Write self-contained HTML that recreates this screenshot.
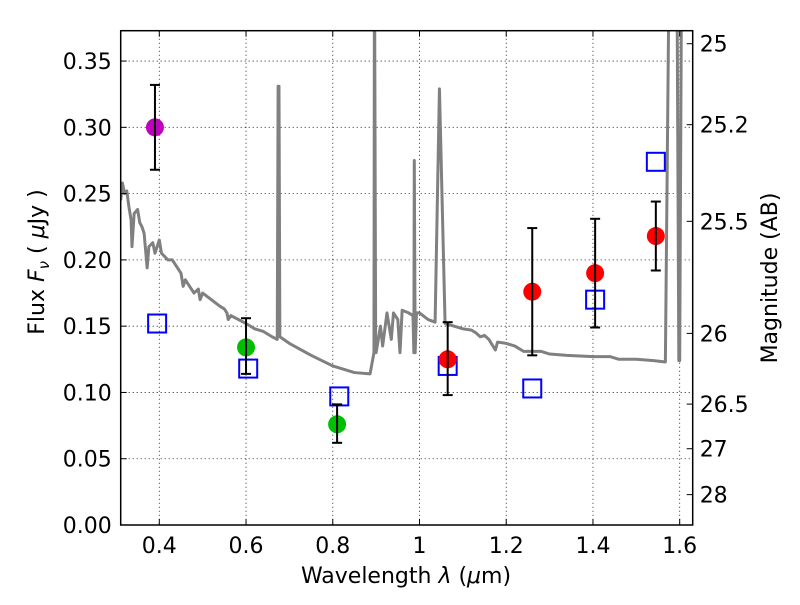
<!DOCTYPE html>
<html><head><meta charset="utf-8"><style>
body{margin:0;background:#fff}
text{font-family:"DejaVu Sans","Liberation Sans",sans-serif;fill:#000}
</style></head><body>
<svg id="chart" width="800" height="600" viewBox="0 0 800 600"></svg>
<script>
const specLam=[0.311,0.315,0.32,0.325,0.33,0.335,0.337,0.342,0.35,0.355,0.36,0.365,0.372,0.376,0.385,0.39,0.40,0.405,0.42,0.43,0.44,0.45,0.455,0.46,0.47,0.48,0.49,0.494,0.50,0.52,0.54,0.55,0.556,0.559,0.565,0.60,0.62,0.64,0.66,0.672,0.674,0.676,0.678,0.70,0.75,0.80,0.85,0.886,0.895,0.896,0.8965,0.899,0.90,0.91,0.915,0.925,0.935,0.94,0.95,0.955,0.96,0.975,0.985,0.987,0.988,0.99,0.993,1.0,1.02,1.036,1.046,1.059,1.08,1.10,1.12,1.13,1.14,1.15,1.16,1.175,1.18,1.2,1.22,1.24,1.28,1.3,1.34,1.4,1.44,1.46,1.5,1.54,1.567,1.575,1.594,1.598,1.600,1.604];
const specFlux=[0.245,0.258,0.25,0.252,0.24,0.23,0.21,0.235,0.238,0.228,0.225,0.22,0.194,0.21,0.213,0.205,0.215,0.205,0.2,0.2,0.195,0.19,0.18,0.185,0.18,0.175,0.178,0.17,0.175,0.17,0.165,0.163,0.16,0.155,0.158,0.152,0.148,0.146,0.142,0.14,0.331,0.331,0.142,0.137,0.128,0.12,0.115,0.114,0.13,0.4,0.4,0.13,0.13,0.15,0.135,0.16,0.14,0.16,0.155,0.13,0.162,0.16,0.158,0.13,0.275,0.13,0.16,0.16,0.155,0.153,0.329,0.152,0.15,0.148,0.147,0.145,0.142,0.143,0.14,0.132,0.138,0.137,0.135,0.131,0.131,0.129,0.128,0.127,0.127,0.125,0.125,0.124,0.123,0.4,0.4,0.124,0.124,0.4];
const circLam=[0.39,0.60,0.81,1.065,1.26,1.405,1.545];
const circFlux=[0.30,0.134,0.076,0.125,0.176,0.190,0.218];
const circLo=[0.268,0.114,0.062,0.098,0.128,0.149,0.192];
const circHi=[0.332,0.156,0.091,0.153,0.224,0.231,0.244];
const circColor=["#bf00bf","#00bf00","#00bf00","#ff0000","#ff0000","#ff0000","#ff0000"];
const sqLam=[0.395,0.605,0.815,1.065,1.26,1.405,1.545];
const sqFlux=[0.152,0.118,0.097,0.12,0.103,0.17,0.274];
const xTicks=[0.4,0.6,0.8,1.0,1.2,1.4,1.6];
const xTickLabels=["0.4","0.6","0.8","1","1.2","1.4","1.6"];
const yTicks=[0,0.05,0.1,0.15,0.2,0.25,0.3,0.35];
const yTickLabels=["0.00","0.05","0.10","0.15","0.20","0.25","0.30","0.35"];
const magTicks=[25,25.2,25.5,26,26.5,27,28];
const magTickLabels=["25","25.2","25.5","26","26.5","27","28"];

const L=120.7,R=692.7,T=30.7,B=525;
const xmin=0.311,xmax=1.630,ymin=0,ymax=0.3729;
const X=v=>L+(v-xmin)/(xmax-xmin)*(R-L);
const Y=v=>B-(v-ymin)/(ymax-ymin)*(B-T);
const magToFlux=m=>Math.pow(10,(23.9-m)/2.5);
const svg=document.getElementById('chart');
const NS='http://www.w3.org/2000/svg';
function mk(tag,attrs,parent){const e=document.createElementNS(NS,tag);for(const k in attrs)e.setAttribute(k,attrs[k]);(parent||svg).appendChild(e);return e;}

const defs=mk('defs',{});
const cp=mk('clipPath',{id:'clip'},defs);
mk('rect',{x:L,y:T,width:R-L,height:B-T},cp);

const grid=mk('g',{});


xTicks.forEach(v=>{mk('line',{x1:X(v),x2:X(v),y1:T,y2:B,stroke:'#000','stroke-width':0.8,'stroke-dasharray':'1,3'},grid);});
yTicks.forEach(v=>{mk('line',{x1:L,x2:R,y1:Y(v),y2:Y(v),stroke:'#000','stroke-width':0.8,'stroke-dasharray':'1,3'},grid);});

const spec=mk('polyline',{points:specLam.map((l,i)=>X(l)+','+Y(specFlux[i])).join(' '),fill:'none',stroke:'#808080','stroke-width':3,'stroke-linejoin':'round','clip-path':'url(#clip)'});



sqLam.forEach((l,i)=>{
  const s=mk('rect',{x:X(l)-9,y:Y(sqFlux[i])-9,width:18,height:18,fill:'none',stroke:'#0000ff','stroke-width':2});
  
  
});
circLam.forEach((l,i)=>{
  const g=mk('g',{});
  
  
  mk('circle',{cx:X(l),cy:Y(circFlux[i]),r:9,fill:circColor[i]},g);
  mk('line',{x1:X(l),x2:X(l),y1:Y(circLo[i]),y2:Y(circHi[i]),stroke:'#000','stroke-width':2},g);
  mk('line',{x1:X(l)-5,x2:X(l)+5,y1:Y(circLo[i]),y2:Y(circLo[i]),stroke:'#000','stroke-width':2},g);
  mk('line',{x1:X(l)-5,x2:X(l)+5,y1:Y(circHi[i]),y2:Y(circHi[i]),stroke:'#000','stroke-width':2},g);
});

const fr=mk('rect',{x:L,y:T,width:R-L,height:B-T,fill:'none',stroke:'#000','stroke-width':1.5});



xTicks.forEach((v,i)=>{
  mk('line',{x1:X(v),x2:X(v),y1:B,y2:B-6,stroke:'#000'});
  mk('line',{x1:X(v),x2:X(v),y1:T,y2:T+6,stroke:'#000'});
  const t=mk('text',{x:X(v),y:B+28,'text-anchor':'middle','font-size':22});
  t.textContent=xTickLabels[i];
  
  
});
yTicks.forEach((v,i)=>{
  mk('line',{x1:L,x2:L+6,y1:Y(v),y2:Y(v),stroke:'#000'});
  const t=mk('text',{x:L-9,y:Y(v)+8,'text-anchor':'end','font-size':22});
  t.textContent=yTickLabels[i];
  
  
});
magTicks.forEach((m,i)=>{
  const y=Y(magToFlux(m));
  mk('line',{x1:R,x2:R-6,y1:y,y2:y,stroke:'#000'});
  const t=mk('text',{x:R+7,y:y+8,'font-size':22});
  t.textContent=magTickLabels[i];
  
  
});
</script>
<svg width="800" height="600" style="position:absolute;left:0;top:0;pointer-events:none">
<text x="406" y="583" text-anchor="middle" font-size="22" style="font-family:'DejaVu Sans',sans-serif">Wavelength  <tspan font-style="italic">λ</tspan> (<tspan font-style="italic">μ</tspan>m)</text>
<text transform="translate(44,262) rotate(-90)" text-anchor="middle" font-size="22" style="font-family:'DejaVu Sans',sans-serif">Flux  <tspan font-style="italic">F</tspan><tspan font-style="italic" font-size="15" dy="5">ν</tspan><tspan dy="-5">  (  </tspan><tspan font-style="italic">μ</tspan>Jy )</text>
<text transform="translate(777,278) rotate(-90)" text-anchor="middle" font-size="22" style="font-family:'DejaVu Sans',sans-serif">Magnitude (AB)</text>
</svg>
</body></html>
